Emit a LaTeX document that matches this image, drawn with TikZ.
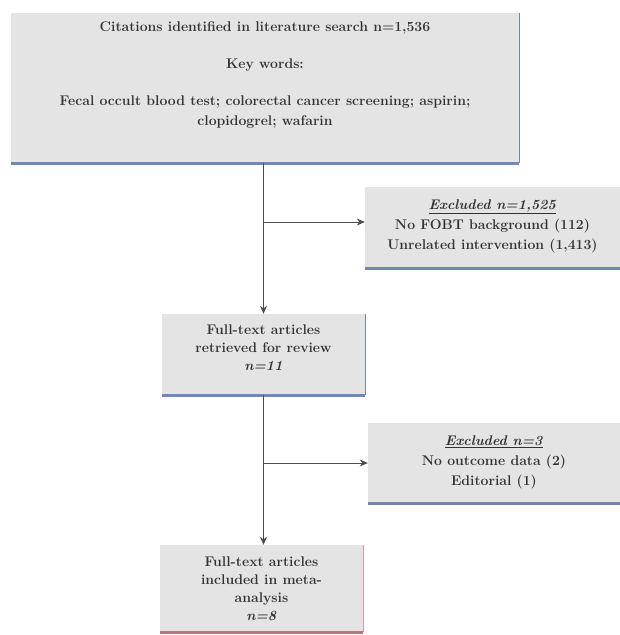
\documentclass[tikz,border=0pt]{standalone}
\usetikzlibrary{arrows.meta}

\definecolor{boxgray}{HTML}{E4E4E4}
\definecolor{edgeblue}{HTML}{7089AE}
\definecolor{edgered}{HTML}{B27A7A}
\definecolor{inkgray}{HTML}{333333}

\tikzset{
  stagebox/.style = {fill = boxgray, text = inkgray, align = center, inner sep = 0pt,
                     font = \fontsize{14}{18}\selectfont\bfseries},
  rightedge/.style = {draw = edgeblue, line width = 1.2pt},
  bottomedge/.style = {draw = edgeblue, line width = 2.6pt},
  flow/.style = {draw = black!70, line width = 0.9pt},
}

\begin{document}
\begin{tikzpicture}[x = 1pt, y = -1pt, >={Stealth[length = 8pt, width = 7pt]}]
        \useasboundingbox (0, 0) rectangle (620, 635);

        % ------------------------------------------------------------------------
        % Main column
        \node[stagebox, minimum width = 508pt, minimum height = 150pt, text depth = 28pt,
              font = \fontsize{14}{20}\selectfont\bfseries] at (265, 88) (search)
          {Citations identified in literature search n=1,536\\[17pt]
           Key words:\\[17pt]
           Fecal occult blood test; colorectal cancer screening; aspirin;\\
           clopidogrel; wafarin};

        \node[stagebox, minimum width = 203pt, minimum height = 81pt, text depth = 14pt]
          at (263.5, 354.5) (retrieved)
          {Full-text articles\\ retrieved for review\\ \textit{n=11}};

        \node[stagebox, minimum width = 203pt, minimum height = 87pt]
          at (261.5, 588.5) (included)
          {Full-text articles\\ included in meta-\\ analysis\\ \textit{n=8}};

        % ------------------------------------------------------------------------
        % Exclusions
        \node[stagebox, minimum width = 255pt, minimum height = 81pt, text depth = 6pt,
              font = \fontsize{14}{20}\selectfont\bfseries]
          at (492.5, 227.5) (exclA)
          {\underline{\textit{Excluded n=1,525}}\\ No FOBT background (112)\\
           Unrelated intervention (1,413)};

        \node[stagebox, minimum width = 252pt, minimum height = 80pt, text depth = 4pt,
              font = \fontsize{14}{20}\selectfont\bfseries]
          at (494, 463) (exclB)
          {\underline{\textit{Excluded n=3}}\\ No outcome data (2)\\ Editorial (1)};

        % ------------------------------------------------------------------------
        % Box edges
        \draw[rightedge] (search.north east) -- (search.south east);
        \draw[bottomedge] (search.south west) -- (search.south east);
        \draw[rightedge] (retrieved.north east) -- (retrieved.south east);
        \draw[bottomedge] (retrieved.south west) -- (retrieved.south east);
        \draw[bottomedge] (exclA.south west) -- (exclA.south east);
        \draw[bottomedge] (exclB.south west) -- (exclB.south east);
        \draw[rightedge, draw = edgered!70] (included.north east) -- (included.south east);
        \draw[bottomedge, draw = edgered] (included.south west) -- (included.south east);

        % ------------------------------------------------------------------------
        % Connectors
        \draw[flow, ->]
          (retrieved.north |- search.south) -- (retrieved.north)
        ;
        \draw[flow, ->]
          (retrieved.north |- 0, 222) -- (exclA.west |- 0, 222)
        ;
        \draw[flow, ->]
          (retrieved.south) -- (included.north -| retrieved.south)
        ;
        \draw[flow, ->]
          (retrieved.south |- exclB.west) -- (exclB.west)
        ;
      \end{tikzpicture}
\end{document}
